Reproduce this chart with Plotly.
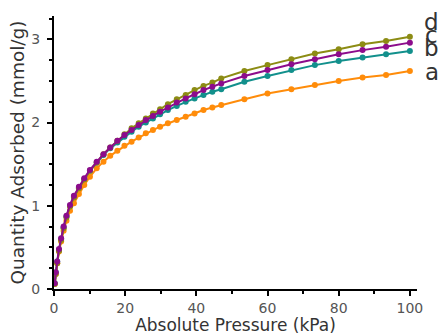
import plotly.graph_objects as go

pressure = [0.2, 0.5, 0.9, 1.4, 2.0, 2.7, 3.5, 4.5, 5.6, 7.0, 8.5, 10.1, 12.0, 13.9, 15.8,
            17.8, 19.8, 21.8, 23.8, 25.8, 27.8, 29.8, 32.0, 34.5, 37.0, 39.5, 42.0, 44.5,
            47.0, 53.5, 60.0, 66.7, 73.3, 80.0, 86.7, 93.3, 100.0]

qa = [0.06, 0.18, 0.31, 0.45, 0.57, 0.70, 0.82, 0.94, 1.03, 1.14, 1.25, 1.35, 1.45, 1.53,
      1.60, 1.66, 1.72, 1.77, 1.82, 1.87, 1.91, 1.95, 1.99, 2.03, 2.07, 2.11, 2.15, 2.18,
      2.21, 2.28, 2.35, 2.40, 2.45, 2.50, 2.54, 2.57, 2.62]
qb = [0.07, 0.20, 0.33, 0.47, 0.60, 0.74, 0.87, 1.00, 1.11, 1.22, 1.32, 1.42, 1.52, 1.61,
      1.69, 1.76, 1.83, 1.89, 1.95, 2.00, 2.05, 2.10, 2.15, 2.20, 2.25, 2.29, 2.33, 2.37,
      2.40, 2.49, 2.56, 2.63, 2.69, 2.74, 2.78, 2.82, 2.86]
qc = [0.07, 0.20, 0.33, 0.48, 0.61, 0.75, 0.88, 1.01, 1.12, 1.23, 1.33, 1.43, 1.53, 1.62,
      1.70, 1.78, 1.85, 1.91, 1.97, 2.03, 2.08, 2.13, 2.18, 2.24, 2.29, 2.34, 2.39, 2.43,
      2.47, 2.56, 2.63, 2.70, 2.76, 2.82, 2.87, 2.91, 2.96]
qd = [0.06, 0.18, 0.31, 0.46, 0.59, 0.73, 0.86, 0.99, 1.10, 1.21, 1.32, 1.42, 1.52, 1.62,
      1.70, 1.78, 1.86, 1.93, 1.99, 2.05, 2.11, 2.16, 2.22, 2.28, 2.33, 2.39, 2.44, 2.48,
      2.53, 2.62, 2.69, 2.76, 2.83, 2.88, 2.94, 2.98, 3.03]

series_names = ["a", "b", "c", "d"]
series_colors = {"a": "#ff8c0a", "b": "#12908c", "c": "#8c0c8c", "d": "#8c8c14"}
series_vals = {"a": qa, "b": qb, "c": qc, "d": qd}
label_y = {"a": 2.61, "b": 2.90, "c": 3.05, "d": 3.21}

FONT = "DejaVu Sans"

fig = go.Figure()
for name in ["a", "b", "d", "c"]:
    fig.add_trace(go.Scatter(
        x=pressure, y=series_vals[name], mode="lines+markers", name=name,
        line=dict(color=series_colors[name], width=2),
        marker=dict(color=series_colors[name], size=6),
        showlegend=False))

for name in series_names:
    fig.add_annotation(x=1.04, xref="paper", xanchor="center",
                       y=label_y[name], yref="y", yanchor="middle", text=name, showarrow=False,
                       font=dict(family=FONT, size=23, color="#333333"))

fig.update_layout(
    width=440, height=335,
    margin=dict(l=54, r=23, t=16, b=46, autoexpand=False),
    plot_bgcolor="white", paper_bgcolor="white",
    font=dict(family=FONT, color="#333333"),
    xaxis=dict(range=[0, 102], tickvals=[0, 20, 40, 60, 80, 100], automargin=False,
               showline=True, linecolor="black", linewidth=2,
               ticks="outside", ticklen=5, tickwidth=2, tickcolor="black",
               minor=dict(dtick=10, tick0=0, ticks="outside", ticklen=3, tickwidth=2, tickcolor="black"),
               showgrid=False, zeroline=False,
               tickfont=dict(family=FONT, size=14, color="#555555"),
               title=dict(text="Absolute Pressure (kPa)", standoff=0,
                          font=dict(family=FONT, size=17, color="#333333"))),
    yaxis=dict(range=[0, 3.28], tickvals=[0, 1, 2, 3], automargin=False,
               showline=True, linecolor="black", linewidth=2,
               ticks="outside", ticklen=5, tickwidth=2, tickcolor="black",
               minor=dict(dtick=0.25, tick0=0, ticks="outside", ticklen=3, tickwidth=2, tickcolor="black"),
               showgrid=False, zeroline=False, ticklabelstandoff=4,
               tickfont=dict(family=FONT, size=14, color="#555555"),
               title=dict(text="Quantity Adsorbed (mmol/g)", standoff=2,
                          font=dict(family=FONT, size=18.5, color="#333333"))),
)

fig.write_html("out.html", post_script="document.body.style.margin='0';",
               config={"displayModeBar": False})
